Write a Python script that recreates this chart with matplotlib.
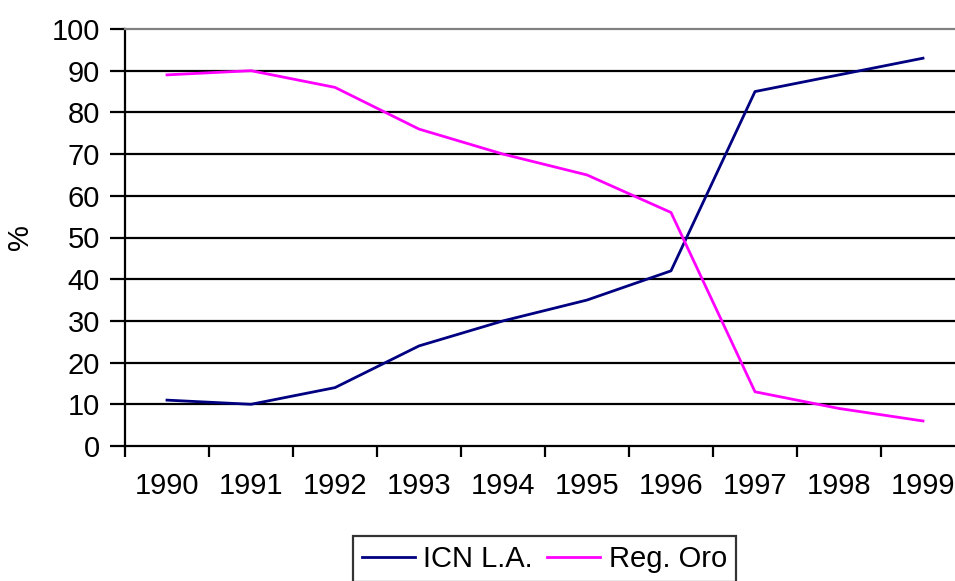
import numpy as np
import matplotlib
matplotlib.use("Agg")
import matplotlib.pyplot as plt

years = ["1990", "1991", "1992", "1993", "1994", "1995", "1996", "1997", "1998", "1999"]
icn_la = [11, 10, 14, 24, 30, 35, 42, 85, 89, 93]
reg_oro = [89, 90, 86, 76, 70, 65, 56, 13, 9, 6]

plt.rcParams["font.family"] = ["Liberation Sans", "DejaVu Sans"]
plt.rcParams["font.size"] = 21

fig = plt.figure(figsize=(9.55, 5.81), dpi=100)
# plot area runs past the right edge, as in the original (cropped)
ax = fig.add_axes([125 / 955, 1 - 446 / 581, 840 / 955, 417 / 581])

x = np.arange(len(years))
ax.plot(x, icn_la, color="#000080", lw=2.0, label="ICN L.A.")
ax.plot(x, reg_oro, color="#ff00ff", lw=2.0, label="Reg. Oro")

ax.set_xlim(-0.5, len(years) - 0.5)
ax.set_ylim(0, 100)
ax.set_yticks(range(0, 101, 10))
for yv in range(10, 100, 10):
    ax.axhline(yv, color="black", lw=1.6, zorder=0)

ax.set_xticks(np.arange(-0.5, len(years), 1.0))
ax.set_xticklabels([])
ax.set_xticks(x, minor=True)
ax.set_xticklabels(years, minor=True)
ax.tick_params(axis="x", which="major", length=8, width=1.6, direction="out")
ax.tick_params(axis="x", which="minor", length=0, pad=19)
ax.tick_params(axis="y", length=11, width=1.6, direction="out", pad=7)

for side in ["left", "bottom"]:
    ax.spines[side].set_linewidth(1.6)
    ax.spines[side].set_color("black")
ax.spines["top"].set_color("#808080")
ax.spines["top"].set_linewidth(1.6)
ax.spines["right"].set_visible(False)

fig.text(20 / 955, 1 - 237 / 581, "%", rotation=90, ha="center", va="center", fontsize=21)

leg = fig.legend(loc="upper center", bbox_to_anchor=(544.5 / 955, 1 - 536 / 581), ncol=2,
                 frameon=True, fancybox=False, edgecolor="black", handlelength=1.8,
                 handletextpad=0.3, columnspacing=0.5, borderpad=0.3, borderaxespad=0)
leg.get_frame().set_linewidth(1.6)

fig.savefig("out.png", dpi=100)
